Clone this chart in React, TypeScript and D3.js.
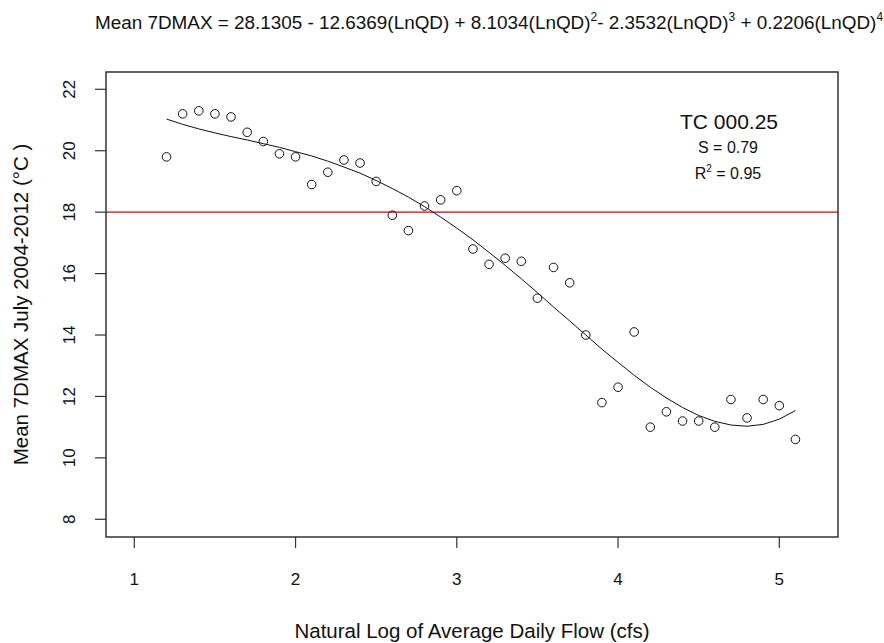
import * as d3 from "d3";

// Natural log of average daily flow (x) and observed mean 7DMAX (y)
const lnFlow = [
  1.2, 1.3, 1.4, 1.5, 1.6, 1.7, 1.8, 1.9, 2.0, 2.1, 2.2, 2.3, 2.4, 2.5, 2.6, 2.7, 2.8, 2.9, 3.0, 3.1,
  3.2, 3.3, 3.4, 3.5, 3.6, 3.7, 3.8, 3.9, 4.0, 4.1, 4.2, 4.3, 4.4, 4.5, 4.6, 4.7, 4.8, 4.9, 5.0, 5.1,
];
const observed = [
  19.8, 21.2, 21.3, 21.2, 21.1, 20.6, 20.3, 19.9, 19.8, 18.9, 19.3, 19.7, 19.6, 19.0, 17.9, 17.4, 18.2, 18.4, 18.7, 16.8,
  16.3, 16.5, 16.4, 15.2, 16.2, 15.7, 14.0, 11.8, 12.3, 14.1, 11.0, 11.5, 11.2, 11.2, 11.0, 11.9, 11.3, 11.9, 11.7, 10.6,
];
// fitted curve values read at the same x positions
const fitted = [
  21.03, 20.86, 20.71, 20.58, 20.46, 20.35, 20.23, 20.11, 19.97, 19.83, 19.66, 19.47, 19.27, 19.03, 18.77, 18.49, 18.18, 17.84, 17.48, 17.10,
  16.69, 16.27, 15.83, 15.38, 14.91, 14.46, 14.0, 13.54, 13.11, 12.69, 12.30, 11.95, 11.64, 11.38, 11.19, 11.07, 11.03, 11.09, 11.26, 11.54,
];
const xTicks = [1, 2, 3, 4, 5];
const yTicks = [8, 10, 12, 14, 16, 18, 20, 22];
const threshold = 18;

const W = 884;
const H = 643;
const box = { left: 106, right: 838, top: 72, bottom: 537 };
const font = "'Liberation Sans', Arial, sans-serif";

export default function App() {
  const x = d3.scaleLinear().domain([1, 5]).range([134.3, 779.3]);
  const y = d3.scaleLinear().domain([8, 22]).range([519.3, 89.3]);

  const fitLine = d3
    .line<number>()
    .x((_, i) => x(lnFlow[i]))
    .y((d) => y(d));

  const sup = { fontSize: "12px" };

  return (
    <svg
      width={W}
      height={H}
      style={{ position: "absolute", left: 0, top: 0, background: "#fff" }}
      fontFamily={font}
    >
      <text x={489} y={29} textAnchor="middle" fontSize={18.9} fill="#111">
        Mean 7DMAX = 28.1305 - 12.6369(LnQD) + 8.1034(LnQD)
        <tspan dy={-8} style={sup}>2</tspan>
        <tspan dy={8}>- 2.3532(LnQD)</tspan>
        <tspan dy={-8} style={sup}>3</tspan>
        <tspan dy={8}> + 0.2206(LnQD)</tspan>
        <tspan dy={-8} style={sup}>4</tspan>
      </text>

      {/* threshold line */}
      <line x1={box.left} x2={box.right} y1={y(threshold)} y2={y(threshold)} stroke="#e00000" strokeWidth={1.3} />

      {/* fitted curve */}
      <path d={fitLine(fitted) ?? ""} fill="none" stroke="#111" strokeWidth={1} />

      {/* observations */}
      {observed.map((v, i) => (
        <circle key={i} cx={x(lnFlow[i])} cy={y(v)} r={4.3} fill="none" stroke="#111" strokeWidth={1} />
      ))}

      <rect
        x={box.left}
        y={box.top}
        width={box.right - box.left}
        height={box.bottom - box.top}
        fill="none"
        stroke="#333"
        strokeWidth={1.5}
      />

      {/* x axis */}
      {xTicks.map((t) => (
        <g key={t}>
          <line x1={x(t)} x2={x(t)} y1={box.bottom} y2={box.bottom + 11} stroke="#333" strokeWidth={1.2} />
          <text x={x(t)} y={585} textAnchor="middle" fontSize={17} fill="#111">
            {t}
          </text>
        </g>
      ))}

      {/* y axis */}
      {yTicks.map((t) => (
        <g key={t}>
          <line x1={box.left - 11} x2={box.left} y1={y(t)} y2={y(t)} stroke="#333" strokeWidth={1.2} />
          <text
            transform={`translate(75,${y(t)}) rotate(-90)`}
            textAnchor="middle"
            fontSize={17}
            fill="#111"
          >
            {t}
          </text>
        </g>
      ))}

      <text x={(box.left + box.right) / 2} y={638} textAnchor="middle" fontSize={20.5} fill="#111">
        Natural Log of Average Daily Flow (cfs)
      </text>
      <text
        transform={`translate(28,${(box.top + box.bottom) / 2}) rotate(-90)`}
        textAnchor="middle"
        fontSize={20.5}
        fill="#111"
      >
        Mean 7DMAX July 2004-2012 (°C )
      </text>

      {/* annotation */}
      <text x={729} y={129} textAnchor="middle" fontSize={21} fill="#111">
        TC 000.25
      </text>
      <text x={728} y={153} textAnchor="middle" fontSize={16} fill="#111">
        S = 0.79
      </text>
      <text x={728} y={179} textAnchor="middle" fontSize={16} fill="#111">
        R<tspan dy={-7} style={{ fontSize: "10px" }}>2</tspan>
        <tspan dy={7}> = 0.95</tspan>
      </text>
    </svg>
  );
}
